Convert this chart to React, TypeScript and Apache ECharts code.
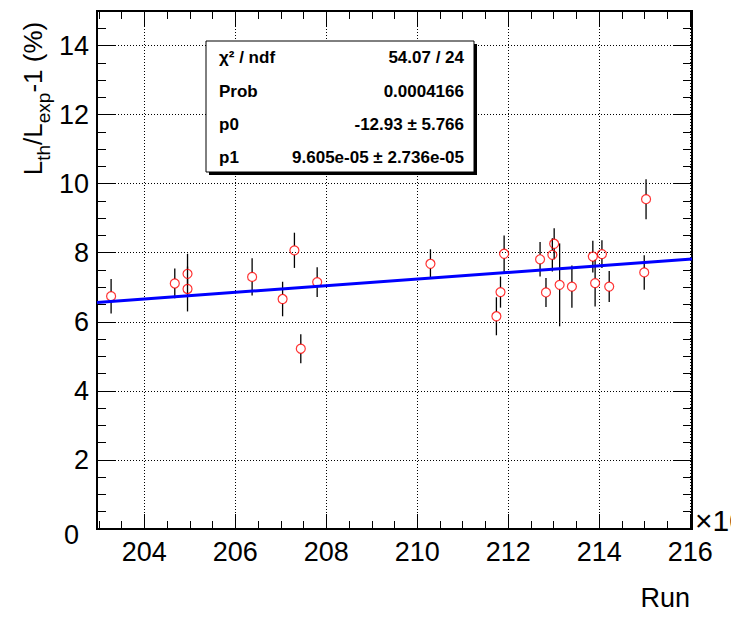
import React, { useEffect, useRef } from "react";
import * as echarts from "echarts";

const FONT = '"Liberation Sans", Arial, Helvetica, sans-serif';

// axis ranges (run axis in units of 10^3)
const X_MIN = 202.96;
const X_MAX = 216.04;
const Y_MIN = 0;
const Y_MAX = 15;

// data points: run (x10^3), L_th/L_exp - 1 (%), error
const runs = [203.27, 204.67, 204.95, 204.95, 206.37, 207.04, 207.3, 207.44, 207.8, 210.29, 211.74, 211.83, 211.91, 212.7, 212.83, 212.97, 213.01, 213.13, 213.4, 213.86, 213.91, 214.06, 214.22, 214.99, 215.03];
const ratio = [6.74, 7.11, 7.39, 6.95, 7.3, 6.66, 8.07, 5.22, 7.15, 7.68, 6.16, 6.86, 7.97, 7.81, 6.85, 7.94, 8.26, 7.07, 7.02, 7.89, 7.12, 7.96, 7.02, 7.43, 9.55];
const errors = [0.5, 0.43, 0.58, 0.65, 0.54, 0.5, 0.51, 0.42, 0.43, 0.42, 0.55, 0.45, 0.53, 0.5, 0.42, 0.48, 0.45, 1.2, 0.61, 0.46, 0.68, 0.4, 0.45, 0.5, 0.58];

// fit line end points
const fitRuns = [202.96, 216.04];
const fitValues = [6.56, 7.82];

// ticks
const xMajor = [204, 206, 208, 210, 212, 214, 216];
const xMinor = [203, 203.5, 204, 204.5, 205, 205.5, 206, 206.5, 207, 207.5, 208, 208.5, 209, 209.5, 210, 210.5, 211, 211.5, 212, 212.5, 213, 213.5, 214, 214.5, 215, 215.5, 216];
const yMajor = [0, 2, 4, 6, 8, 10, 12, 14];
const yMinor = [0, 0.5, 1, 1.5, 2, 2.5, 3, 3.5, 4, 4.5, 5, 5.5, 6, 6.5, 7, 7.5, 8, 8.5, 9, 9.5, 10, 10.5, 11, 11.5, 12, 12.5, 13, 13.5, 14, 14.5, 15];

// stats box
const statsNames = ["χ² / ndf", "Prob", "p0", "p1"];
const statsValues = ["54.07 / 24", "0.0004166", "-12.93 ± 5.766", "9.605e-05 ± 2.736e-05"];

// titles
const xTitle = "Run";
const xExponent = "×10³";
const yTitleParts = [
  { t: "L", sub: false },
  { t: "th", sub: true },
  { t: "/L", sub: false },
  { t: "exp", sub: true },
  { t: "-1 (%)", sub: false },
];

const LABEL_SIZE = 27;

function measure(text: string, size: number, weight = "normal") {
  const c = document.createElement("canvas");
  const ctx = c.getContext("2d");
  if (!ctx) return text.length * size * 0.55;
  ctx.font = `${weight} ${size}px ${FONT}`;
  return ctx.measureText(text).width;
}

function makeAxis(dim: "x" | "y", position: string, ticks: number[], len: number, labels: boolean, split: boolean) {
  const label: any = labels
    ? {
        show: true,
        customValues: ticks,
        fontSize: LABEL_SIZE,
        fontFamily: FONT,
        color: "#000",
        margin: dim === "x" ? 9 : 8,
      }
    : { show: false };
  if (labels && dim === "y") {
    label.formatter = (v: number) => (v === 0 ? "{z|0}" : String(v));
    label.rich = {
      z: { fontSize: LABEL_SIZE, fontFamily: FONT, color: "#000", padding: [12, 10, 0, 0] },
    };
  }
  return {
    type: "value",
    min: dim === "x" ? X_MIN : Y_MIN,
    max: dim === "x" ? X_MAX : Y_MAX,
    position,
    axisLine: { show: true, onZero: false, lineStyle: { color: "#000", width: 2 } },
    axisTick: { show: true, inside: true, length: len, customValues: ticks, lineStyle: { color: "#000", width: 1 } },
    axisLabel: label,
    splitLine: split ? { show: true, lineStyle: { color: "#000", width: 1, type: [1, 2] } } : { show: false },
    minorTick: { show: false },
    minorSplitLine: { show: false },
  };
}

export default function App() {
  const ref = useRef<HTMLDivElement>(null);
  useEffect(() => {
    if (!ref.current) return;
    const chart = echarts.init(ref.current, undefined, { renderer: "svg" });

    const MAIN = 26;
    const SUB = 19;
    const parts = yTitleParts.map((p) => ({ ...p, w: measure(p.t, p.sub ? SUB : MAIN) }));
    const total = parts.reduce((a, p) => a + p.w, 0);
    let off = 0;
    const titleChildren = parts.map((p) => {
      const el = {
        type: "text",
        x: off,
        y: p.sub ? 10 : 0,
        style: {
          text: p.t,
          font: `${p.sub ? SUB : MAIN}px ${FONT}`,
          fill: "#000",
          textAlign: "left",
          textVerticalAlign: "middle",
        },
      };
      off += p.w;
      return el;
    });

    const statsY = [57.5, 91, 124, 157];
    const statsChildren: any[] = [
      { type: "rect", shape: { x: 209, y: 44, width: 268, height: 131 }, style: { fill: "#000" }, z: 100 },
      { type: "rect", shape: { x: 206, y: 41, width: 268, height: 131 }, style: { fill: "#fff", stroke: "#000", lineWidth: 1 }, z: 101 },
    ];
    statsNames.forEach((n, i) => {
      statsChildren.push({
        type: "text",
        z: 102,
        style: { text: n, x: 219, y: statsY[i], font: `bold 17px ${FONT}`, fill: "#000", textAlign: "left", textVerticalAlign: "middle" },
      });
      statsChildren.push({
        type: "text",
        z: 102,
        style: { text: statsValues[i], x: 464, y: statsY[i], font: `bold 17px ${FONT}`, fill: "#000", textAlign: "right", textVerticalAlign: "middle" },
      });
    });

    const option: any = {
      animation: false,
      backgroundColor: "#fff",
      grid: { left: 97, top: 11, right: 39, bottom: 91, containLabel: false },
      xAxis: [
        makeAxis("x", "bottom", xMajor, 15, true, true),
        makeAxis("x", "bottom", xMinor, 8, false, false),
        makeAxis("x", "top", xMajor, 15, false, false),
        makeAxis("x", "top", xMinor, 8, false, false),
      ],
      yAxis: [
        makeAxis("y", "left", yMajor, 18, true, true),
        makeAxis("y", "left", yMinor, 9, false, false),
        makeAxis("y", "right", yMajor, 18, false, false),
        makeAxis("y", "right", yMinor, 9, false, false),
      ],
      series: [
        {
          type: "custom",
          xAxisIndex: 0,
          yAxisIndex: 0,
          z: 3,
          encode: { x: 0, y: 1 },
          data: runs.map((r, i) => [r, ratio[i], errors[i]]),
          renderItem: (params: any, api: any) => {
            const x = api.value(0);
            const y = api.value(1);
            const e = api.value(2);
            const c = api.coord([x, y]);
            const top = api.coord([x, y + e]);
            const bot = api.coord([x, y - e]);
            const r = 4.5;
            const st = { stroke: "#000", lineWidth: 1.3 };
            const children: any[] = [];
            if (c[1] - r > top[1]) children.push({ type: "line", shape: { x1: c[0], y1: top[1], x2: c[0], y2: c[1] - r }, style: st });
            if (bot[1] > c[1] + r) children.push({ type: "line", shape: { x1: c[0], y1: c[1] + r, x2: c[0], y2: bot[1] }, style: st });
            return { type: "group", children };
          },
        },
        {
          type: "scatter",
          xAxisIndex: 0,
          yAxisIndex: 0,
          z: 4,
          symbol: "circle",
          symbolSize: 9,
          itemStyle: { color: "rgba(0,0,0,0)", borderColor: "#ff0000", borderWidth: 1.2 },
          data: runs.map((r, i) => [r, ratio[i]]),
        },
        {
          type: "line",
          xAxisIndex: 0,
          yAxisIndex: 0,
          z: 5,
          symbol: "none",
          lineStyle: { color: "#0000ff", width: 3 },
          data: fitRuns.map((r, i) => [r, fitValues[i]]),
        },
      ],
      graphic: [
        {
          type: "group",
          x: 33,
          y: 98.5 + total / 2,
          rotation: Math.PI / 2,
          children: titleChildren,
        },
        {
          type: "text",
          style: { text: xTitle, x: 690, y: 598, font: `${LABEL_SIZE}px ${FONT}`, fill: "#000", textAlign: "right", textVerticalAlign: "middle" },
        },
        {
          type: "text",
          style: { text: xExponent, x: 695, y: 520, font: `30px ${FONT}`, fill: "#000", textAlign: "left", textVerticalAlign: "middle" },
        },
        { type: "group", children: statsChildren },
      ],
    };
    chart.setOption(option);
    return () => chart.dispose();
  }, []);
  return <div ref={ref} style={{ position: "fixed", left: 0, top: 0, width: 731, height: 620 }} />;
}
